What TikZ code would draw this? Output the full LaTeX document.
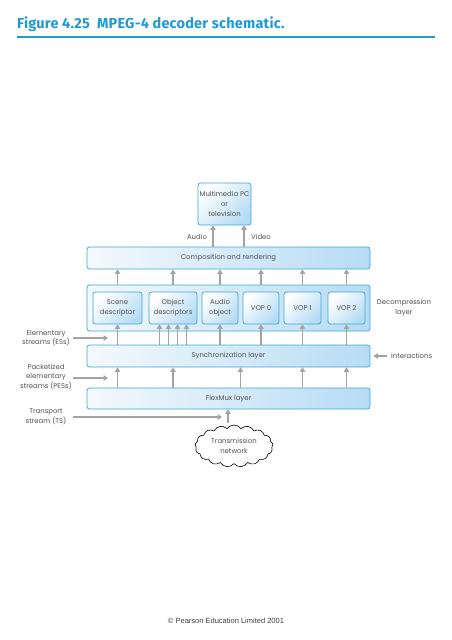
\documentclass[tikz,border=0pt]{standalone}
\usepackage{fontspec}
\setmainfont{Poppins}
\newfontfamily\titlefont[LetterSpace=1.5]{Fira Sans}
\newfontfamily\cpfont{Liberation Sans}
\usetikzlibrary{arrows.meta,shapes.symbols,calc}
\definecolor{titleblue}{HTML}{1E9AD6}
\definecolor{boxline}{HTML}{3FA6DA}
\definecolor{boxblue}{HTML}{B6DCF4}
\definecolor{boxlight}{HTML}{F4F9FD}
\definecolor{arrgray}{HTML}{A3A3A3}
\definecolor{txtgray}{HTML}{505050}
\begin{document}
\begin{tikzpicture}[x=1pt,y=-1pt,
  txt/.style={text=txtgray, font=\fontsize{6.9}{9.7}\selectfont},
  layer/.style={txt, draw=boxline, line width=0.8pt, rounded corners=2.5pt,
    left color=boxlight, right color=boxblue, minimum height=22pt,
    minimum width=283pt, inner sep=0pt},
  unit/.style={txt, draw=boxline, line width=0.8pt, rounded corners=2.5pt,
    left color=white, right color=boxblue, shading angle=45,
    minimum height=32pt, inner sep=0pt, align=center},
  lbl/.style={txt, align=center, inner sep=0pt},
  arr/.style={draw=arrgray, line width=1.6pt, -{Triangle[length=4.5pt,width=5.5pt]}},
]
\useasboundingbox (0,0) rectangle (452,640);

% title
\node[anchor=base west, text=titleblue, inner sep=0pt,
  font=\titlefont\bfseries\fontsize{14.5}{17}\selectfont] (title) at (17,28)
  {Figure 4.25\hspace{0.5em}MPEG-4 decoder schematic.};
\draw[titleblue, line width=1.2pt] (17,37) -- (435,37);

% top box
\node[unit, minimum width=53pt, minimum height=42pt] (mm) at (224.5,204)
  {Multimedia PC\\or\\television};
\node[lbl] (audlbl) at (197,237) {Audio};
\node[lbl] (vidlbl) at (261,237) {Video};

% layers
\node[layer] (comp) at (228.5,258) {Composition and rendering};
\node[layer, minimum height=46pt] (dec) at (228.5,308) {};
\node[unit, minimum width=49pt] (scene) at (117.5,308) {Scene\\descriptor};
\node[unit, minimum width=48pt] (objd) at (173,308) {Object\\descriptors};
\node[unit, minimum width=36pt] (audio) at (220,308) {Audio\\object};
\node[unit, minimum width=36pt] (vop0) at (261,308) {VOP 0};
\node[unit, minimum width=37pt] (vop1) at (302.5,308) {VOP 1};
\node[unit, minimum width=37pt] (vop2) at (346.5,308) {VOP 2};
\node[layer] (sync) at (228.5,356) {Synchronization layer};
\node[layer, minimum height=21pt] (flex) at (228.5,398.5) {FlexMux layer};

% side labels
\node[lbl] (declbl) at (404,308) {Decompression\\layer};
\node[lbl, anchor=west] (inter) at (391,356) {Interactions};
\node[lbl] (es) at (46,338) {Elementary\\streams (ESs)};
\node[lbl] (pes) at (46,377) {Packetized\\elementary\\streams (PESs)};
\node[lbl] (ts) at (46,417) {Transport\\stream (TS)};

% cloud
\node[cloud, cloud puffs=17, cloud puff arc=110, aspect=1.9, draw=black,
  line width=0.6pt, minimum width=78pt, minimum height=42pt, inner sep=0pt,
  lbl] (cloud) at (234,446) {Transmission\\network};

% copyright
\node[font=\cpfont\fontsize{7.5}{9}\selectfont, text=black!75, inner sep=0pt]
  (copy) at (226,621) {© Pearson Education Limited 2001};

% arrows to top box
\coordinate (aA) at ([xshift=-11.5pt]mm.south);
\coordinate (vA) at ([xshift=19.5pt]mm.south);
\draw[arr] (aA |- comp.north) -- (aA);
\draw[arr] (vA |- comp.north) -- (vA);

% decompression -> composition
\foreach \n in {scene,objd,audio,vop0,vop1,vop2}
  \draw[arr] (\n.north |- dec.north) -- (\n.north |- comp.south);

% sync -> units
\foreach \n in {scene,audio,vop0,vop1,vop2}
  \draw[arr] (\n.south |- sync.north) -- (\n.south);
\foreach \d in {-13.5,-4.5,4.5,13.5} {
  \coordinate (od) at ([xshift=\d pt]objd.south);
  \draw[arr] (od |- sync.north) -- (od);
}

% flexmux -> sync
\foreach \n in {scene,objd,vop1,vop2}
  \draw[arr] (\n.south |- flex.north) -- (\n.south |- sync.south);
\coordinate (mid) at ($(audio.south)!0.5!(vop0.south)$);
\draw[arr] (mid |- flex.north) -- (mid |- sync.south);

% cloud -> flexmux
\coordinate (cf) at ([xshift=-6pt,yshift=2pt]cloud.north);
\draw[arr] (cf) -- (cf |- flex.south);

% left stream arrows
\coordinate (esA) at (73,338); \coordinate (esB) at (108,338);
\coordinate (pesA) at (73,378); \coordinate (pesB) at (108,378);
\coordinate (tsA) at (73,417); \coordinate (tsB) at (222,417);
\draw[arr] (esA) -- (esB);
\draw[arr] (pesA) -- (pesB);
\draw[arr] (tsA) -- (tsB);

% interactions
\draw[arr, shorten >=3pt] ([xshift=-4pt]inter.west) -- (sync.east);
\end{tikzpicture}
\end{document}
